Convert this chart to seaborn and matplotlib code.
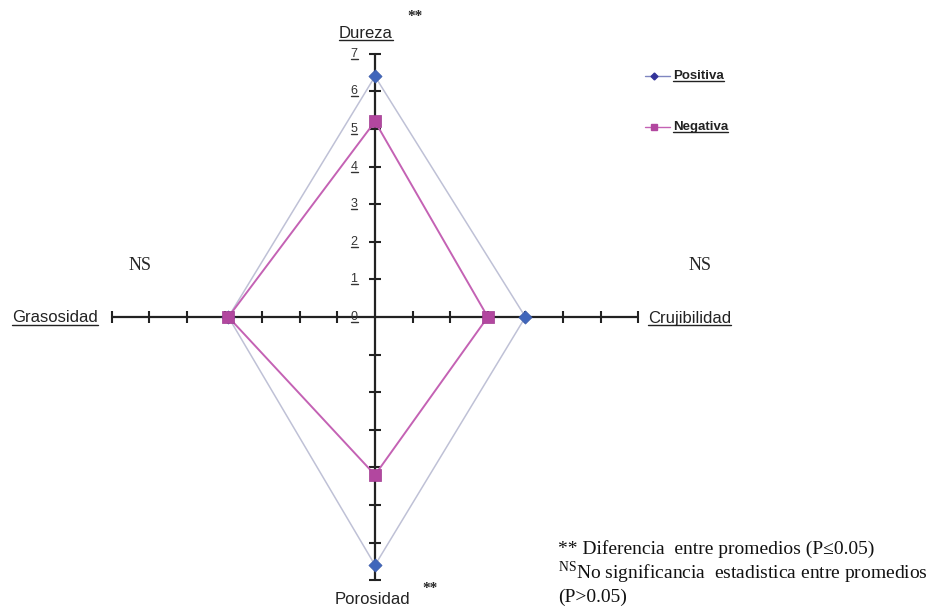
import numpy as np
import pandas as pd
import seaborn as sns
import matplotlib.pyplot as plt
from matplotlib.lines import Line2D

# radar data (Excel-style diamond chart)
atributos = ["Dureza", "Crujibilidad", "Porosidad", "Grasosidad"]
angulos = [90, 0, 270, 180]
positiva = [6.4, 4.0, 6.6, 3.9]
negativa = [5.2, 3.0, 4.2, 3.9]
escala = [0, 1, 2, 3, 4, 5, 6, 7]
signif = ["**", "NS", "**", "NS"]

sns.set_theme(style="white")
plt.rcParams["font.family"] = ["Liberation Sans", "DejaVu Sans"]
plt.rcParams["mathtext.fontset"] = "custom"
plt.rcParams["mathtext.rm"] = "Liberation Serif"

W, H = 934, 609
cx, cy, unit = 375, 317, 37.6

fig = plt.figure(figsize=(W / 100, H / 100), dpi=100)
ax = fig.add_axes([0, 0, 1, 1])
ax.set_xlim(-cx / unit, (W - cx) / unit)
ax.set_ylim(-(H - cy) / unit, cy / unit)
ax.axis("off")


def to_xy(vals):
    rad = np.deg2rad(angulos)
    xs = np.array(vals) * np.cos(rad)
    ys = np.array(vals) * np.sin(rad)
    return np.append(xs, xs[0]), np.append(ys, ys[0])


# axes of the radar
vmax = escala[-1]
ax.plot([-vmax, vmax], [0, 0], color="#222222", lw=1.6, zorder=1)
ax.plot([0, 0], [-vmax, vmax], color="#222222", lw=1.6, zorder=1)
ticks = np.array(escala[1:])
ax.plot(np.zeros_like(ticks), ticks, ls="", marker="_", ms=8, mew=1.5, color="#222222", zorder=1)
ax.plot(np.zeros_like(ticks), -ticks, ls="", marker="_", ms=8, mew=1.5, color="#222222", zorder=1)
ax.plot(ticks, np.zeros_like(ticks), ls="", marker="|", ms=9, mew=1.5, color="#222222", zorder=1)
ax.plot(-ticks, np.zeros_like(ticks), ls="", marker="|", ms=9, mew=1.5, color="#222222", zorder=1)

# series
xp, yp = to_xy(positiva)
xn, yn = to_xy(negativa)
df = pd.concat([
    pd.DataFrame({"x": xp, "y": yp, "serie": "Positiva", "orden": range(len(xp))}),
    pd.DataFrame({"x": xn, "y": yn, "serie": "Negativa", "orden": range(len(xn))}),
])
sns.lineplot(data=df[df.serie == "Positiva"], x="x", y="y", sort=False, estimator=None,
             color="#bfc1d6", lw=1.1, ax=ax, zorder=2)
sns.lineplot(data=df[df.serie == "Negativa"], x="x", y="y", sort=False, estimator=None,
             color="#c462b4", lw=1.4, ax=ax, zorder=3)
sns.scatterplot(data=df[(df.serie == "Positiva") & (df.orden < 4)], x="x", y="y", marker="D",
                s=45, color="#4066bb", edgecolor="#3a5aa8", linewidth=0.5, ax=ax, zorder=4)
sns.scatterplot(data=df[(df.serie == "Negativa") & (df.orden < 4)], x="x", y="y", marker="s",
                s=80, color="#b2479f", edgecolor="#a03a90", linewidth=0.5, ax=ax, zorder=5)


def px(x, y):
    return x / W, 1 - y / H


subrayar = []

# scale labels on the vertical axis
for v in escala:
    t = fig.text(*px(354, cy - v * unit), str(v), ha="center", va="center",
                 fontsize=9, color="#333333")
    subrayar.append(t)

# attribute labels
subrayar.append(fig.text(*px(366, 33), atributos[0], ha="center", va="center", fontsize=12, color="#222222"))
subrayar.append(fig.text(*px(648, 318), atributos[1], ha="left", va="center", fontsize=12, color="#222222"))
subrayar.append(fig.text(*px(98, 318), atributos[3], ha="right", va="center", fontsize=12, color="#222222"))
fig.text(*px(372, 600), atributos[2], ha="center", va="center", fontsize=12, color="#222222")

serif = ["Liberation Serif", "DejaVu Serif"]
fig.text(*px(415, 16), signif[0], ha="center", va="center", fontsize=11, family=serif, weight="bold")
fig.text(*px(430, 589), signif[2], ha="center", va="center", fontsize=11, family=serif, weight="bold")
fig.text(*px(140, 266), signif[3], ha="center", va="center", fontsize=13, family=serif)
fig.text(*px(700, 266), signif[1], ha="center", va="center", fontsize=13, family=serif)

# legend
for nombre, yy, mk, col, lc, ms in [("Positiva", 76, "D", "#333399", "#7f86c0", 3.5),
                                   ("Negativa", 127, "s", "#b2479f", "#c462b4", 4.5)]:
    x0, y0 = px(645, yy)
    x1, _ = px(670, yy)
    xm, _ = px(654, yy)
    fig.add_artist(Line2D([x0, x1], [y0, y0], color=lc, lw=1, transform=fig.transFigure))
    fig.add_artist(Line2D([xm], [y0], marker=mk, ms=ms, color=col,
                          ls="", transform=fig.transFigure))
    subrayar.append(fig.text(*px(673, yy), nombre, ha="left", va="center", fontsize=9.5,
                             color="#222222", weight="bold"))

# footnote
nota = ["** Diferencia  entre promedios (P\u22640.05)",
        r"$^{\mathrm{NS}}$No significancia  estadistica entre promedios",
        "(P>0.05)"]
for i, linea in enumerate(nota):
    fig.text(*px(558, 549 + i * 24), linea, ha="left", va="center", fontsize=14,
             family=serif, color="#111111")

# underline texts
fig.canvas.draw()
rend = fig.canvas.get_renderer()
inv = fig.transFigure.inverted()
for t in subrayar:
    bb = t.get_window_extent(rend)
    (a, b), (c, _) = inv.transform([(bb.x0, bb.y0 + 1), (bb.x1, bb.y0 + 1)])
    fig.add_artist(Line2D([a, c], [b, b], color=t.get_color(), lw=1, transform=fig.transFigure))

fig.savefig("out.png", dpi=100)
